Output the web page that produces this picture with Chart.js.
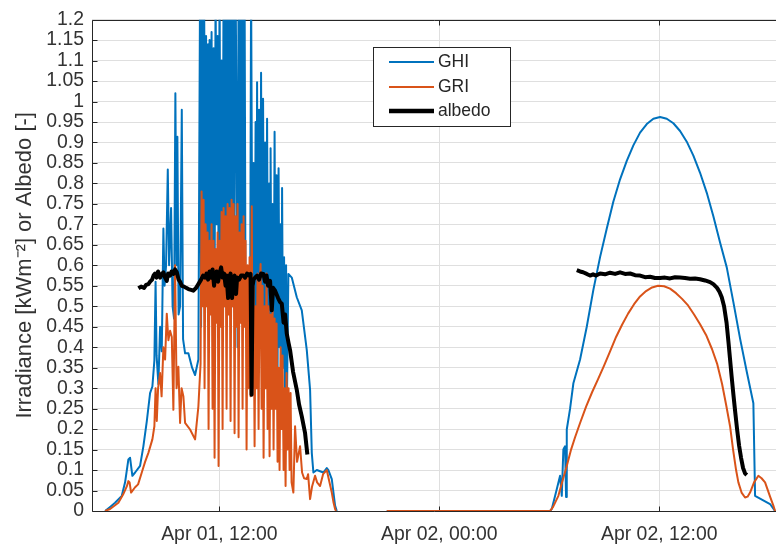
<!DOCTYPE html>
<html><head><meta charset="utf-8">
<script src="https://cdn.jsdelivr.net/npm/chart.js@4/dist/chart.umd.min.js"></script>
<style>html,body{margin:0;padding:0;background:#fff;}canvas{display:block;}</style>
</head><body>
<canvas id="c" width="776" height="546"></canvas>
<script>
// ---- tick labels / categories ----
const xTickValues = [12, 24, 36];            // hours since Apr 01 00:00
const xTickLabels = ['Apr 01, 12:00', 'Apr 02, 00:00', 'Apr 02, 12:00'];
const yTickValues = [0,0.05,0.1,0.15,0.2,0.25,0.3,0.35,0.4,0.45,0.5,0.55,0.6,0.65,0.7,0.75,0.8,0.85,0.9,0.95,1,1.05,1.1,1.15,1.2];
const seriesLabels = ['GHI', 'GRI', 'albedo'];
const yTitle = 'Irradiance [kWm\u207B\u00B2] or Albedo [-]';

// ---- GHI ----
const ghiDay1Time = [5.764,6.037,6.309,6.675,6.855,7.035,7.128,7.253,7.401,7.673,
7.853,8.039,8.219,8.344,8.454,8.519,8.574,8.672,8.765,8.857,
8.945,9.010,9.092,9.185,9.256,9.365,9.447,9.528,9.599,9.665,
9.709,9.774,9.856,9.949,10.019,10.129,10.309,10.511,10.674,10.854,
10.947,11.002,11.056,11.111,11.165,11.220,11.274,11.329,11.383,11.411,
11.465,11.520,11.574,11.629,11.684,11.738,11.793,11.847,11.902,11.956,
12.011,12.066,12.120,12.175,12.229,12.284,12.338,12.393,12.447,12.502,
12.557,12.611,12.666,12.720,12.775,12.829,12.884,12.938,12.993,13.048,
13.102,13.157,13.211,13.266,13.320,13.375,13.429,
13.511,13.620,13.675,13.730,
13.811,13.866,13.921,13.975,14.030,14.057,14.112,14.166,14.221,14.275,
14.330,14.384,14.439,14.493,14.548,14.603,14.657,14.712,14.766,14.794,
14.848,14.903,14.957,15.012,15.066,15.121,15.175,15.230,15.284,15.339,
15.394,15.421,15.476,15.530,15.585,15.639,15.694,15.765,
15.950,16.223,16.496,16.769,16.949,17.042,17.129,17.314,17.675,17.860,
17.947,18.133,18.313,18.405];
const ghiDay1Value = [0,0.01,0.02,0.037,0.07,0.126,0.13,0.086,0.094,0.11,
0.158,0.219,0.288,0.304,0.368,0.56,0.38,0.31,0.45,0.39,
0.69,0.55,0.6,0.834,0.6,0.74,0.5,0.47,1.02,0.6,
0.914,0.48,0.5,0.98,0.42,0.385,0.385,0.35,0.332,0.37,
1.3,0.45,1.3,0.6,1.3,0.7,1.16,0.5,1.14,0.55,
1.15,0.6,1.17,0.65,1.13,0.5,1.3,0.7,1.16,0.6,
1.3,0.55,1.1,0.6,1.3,0.5,1.3,0.65,1.3,0.55,
1.3,0.6,1.3,0.5,1.3,0.7,1.3,0.95,0.4,1.3,
0.6,1.3,0.5,1.3,0.65,1.3,0.45,
0.5,0.38,0.42,1.3,
0.4,0.85,0.35,0.95,0.5,1.047,0.45,0.98,0.5,1.07,
0.45,1.007,0.4,0.9,0.5,0.958,0.37,0.8,0.45,0.886,
0.4,0.75,0.35,0.926,0.4,0.82,0.35,0.837,0.4,0.7,
0.3,0.789,0.35,0.62,0.25,0.6,0.3,0.579,
0.57,0.522,0.49,0.393,0.296,0.142,0.094,0.1,0.094,0.105,
0.1,0.078,0.013,0];
const ghiDay2Time = [21.133,30.043,30.136,30.408,30.589,30.681,30.768,30.861,30.916,30.954,
31.135,31.315,31.680,32.045,32.405,32.771,33.137,33.497,33.862,34.228,
34.588,34.953,35.319,35.679,36.045,36.410,36.770,37.136,37.501,37.862,
38.227,38.593,38.952,39.318,39.683,40.044,40.410,40.775,41.135,41.228,
42.046,42.319];
const ghiDay2Value = [0,0,0.005,0.053,0.086,0.037,0.15,0.158,0.034,0.199,
0.25,0.312,0.37,0.45,0.54,0.62,0.69,0.756,0.81,0.855,
0.893,0.924,0.945,0.958,0.962,0.958,0.947,0.928,0.902,0.868,
0.826,0.777,0.72,0.656,0.595,0.51,0.421,0.34,0.263,0.037,
0.017,0];

// ---- GRI ----
const griDay1Time = [5.764,6.037,6.490,6.746,6.948,7.035,7.101,7.182,7.401,7.564,
7.766,7.946,8.126,8.344,8.454,8.519,8.585,8.656,8.765,8.847,
8.945,9.038,9.130,9.218,9.310,9.403,9.490,9.583,9.665,9.763,
9.856,9.938,10.036,10.129,10.401,10.674,10.854,10.974,11.029,
11.083,11.138,11.192,11.247,11.302,11.356,11.411,11.465,11.520,11.574,
11.629,11.684,11.738,11.793,11.847,11.902,11.956,12.011,12.066,12.120,
12.175,12.229,12.284,12.338,12.393,12.447,12.502,12.557,12.611,12.666,
12.720,12.775,12.829,12.884,12.938,12.993,13.048,13.102,13.157,13.211,
13.266,13.320,13.375,13.429,13.484,13.539,13.593,13.648,13.702,
13.768,
13.811,13.866,13.921,13.975,14.030,14.084,14.139,14.194,14.248,14.303,
14.357,14.412,14.466,14.521,14.575,14.630,14.685,14.739,14.794,14.848,
14.903,14.957,15.012,15.066,15.121,15.175,15.230,15.284,15.339,15.394,
15.448,15.503,15.557,15.612,15.667,15.721,15.776,15.830,15.885,15.939,
16.037,16.130,16.239,16.403,16.512,16.621,16.769,16.840,16.949,17.058,
17.221,17.331,17.494,17.658,17.860,17.958,18.133,18.231,18.313,18.367];
const griDay1Value = [0,0.005,0.02,0.04,0.06,0.073,0.07,0.045,0.058,0.065,
0.094,0.12,0.142,0.175,0.207,0.3,0.22,0.3,0.337,0.28,
0.40,0.37,0.482,0.417,0.44,0.425,0.247,0.60,0.3,0.352,
0.215,0.3,0.28,0.215,0.199,0.175,0.255,0.36,0.78,
0.5,0.76,0.3,0.70,0.5,0.68,0.2,0.66,0.48,0.70,
0.25,0.66,0.13,0.64,0.46,0.68,0.11,0.66,0.45,0.73,
0.2,0.74,0.5,0.72,0.25,0.75,0.48,0.74,0.22,0.76,
0.5,0.75,0.19,0.72,0.45,0.75,0.18,0.68,0.46,0.70,
0.25,0.72,0.45,0.66,0.15,0.6,0.3,0.62,0.28,
0.744,
0.3,0.55,0.158,0.5,0.3,0.58,0.2,0.55,0.603,0.25,
0.55,0.13,0.5,0.3,0.58,0.2,0.5,0.134,0.48,0.25,
0.5,0.15,0.47,0.25,0.458,0.12,0.35,0.1,0.4,0.2,
0.38,0.1,0.3,0.061,0.337,0.15,0.3,0.1,0.288,0.07,
0.045,0.207,0.12,0.158,0.094,0.08,0.078,0.09,0.029,0.06,
0.086,0.07,0.061,0.09,0.1,0.08,0.045,0.02,0.005,0];
const griDay2Time = [21.133,30.043,30.207,30.496,30.698,30.954,31.189,31.407,31.680,32.008,
32.335,32.662,32.989,33.317,33.644,33.971,34.299,34.626,34.953,35.281,
35.608,35.935,36.263,36.590,36.918,37.245,37.572,37.900,38.227,38.554,
38.882,39.155,39.428,39.646,39.864,40.028,40.192,40.317,40.491,40.682,
40.819,40.955,41.173,41.408,41.582,41.774,42.046,42.226,42.319];
const griDay2Value = [0,0,0.01,0.037,0.07,0.11,0.15,0.18,0.215,0.255,
0.29,0.322,0.355,0.39,0.425,0.455,0.482,0.505,0.524,0.537,
0.546,0.55,0.549,0.543,0.532,0.518,0.502,0.48,0.456,0.43,
0.395,0.36,0.31,0.26,0.207,0.15,0.1,0.07,0.045,0.033,
0.035,0.045,0.07,0.086,0.08,0.07,0.035,0.013,0];

// ---- albedo ----
const albDay1Time = [7.581,7.728,7.892,8.001,8.126,8.219,8.328,8.410,8.492,8.574,
8.655,8.765,8.847,8.945,9.037,9.130,9.201,9.310,9.392,9.490,
9.583,9.676,9.774,9.856,9.949,10.074,10.183,10.308,10.456,10.581,
10.728,10.854,11.001,11.111,11.220,11.302,11.383,11.465,11.547,11.629,
11.711,11.765,11.847,11.929,12.011,12.093,12.175,12.256,12.338,12.393,
12.475,12.529,12.611,12.693,12.748,12.829,12.911,12.966,13.075,13.184,
13.309,13.402,13.511,13.620,13.702,13.757,13.811,13.866,13.948,14.057,
14.166,14.275,14.401,14.493,14.575,14.657,14.766,14.859,14.930,15.039,
15.203,15.312,15.405,15.503,15.585,15.677,15.776,15.857,16.021,16.223,
16.348,16.496,16.676,16.801];
const albDay1Value = [0.544,0.548,0.545,0.552,0.554,0.56,0.565,0.575,0.58,0.57,
0.585,0.57,0.578,0.583,0.57,0.562,0.58,0.575,0.585,0.579,
0.59,0.583,0.565,0.56,0.55,0.548,0.545,0.542,0.54,0.538,
0.545,0.554,0.565,0.575,0.57,0.58,0.565,0.585,0.57,0.59,
0.55,0.575,0.585,0.56,0.58,0.595,0.57,0.58,0.55,0.575,
0.52,0.57,0.58,0.52,0.57,0.575,0.53,0.57,0.565,0.575,
0.575,0.57,0.58,0.575,0.579,0.284,0.55,0.565,0.57,0.575,
0.565,0.58,0.579,0.56,0.575,0.55,0.562,0.49,0.545,0.538,
0.52,0.51,0.506,0.46,0.48,0.433,0.41,0.393,0.34,0.296,
0.26,0.231,0.19,0.138];
const albDay2Time = [31.500,31.680,31.844,32.045,32.225,32.389,32.553,32.771,33.044,33.317,
33.590,33.862,34.135,34.408,34.681,34.953,35.226,35.499,35.772,36.045,
36.317,36.590,36.863,37.136,37.408,37.681,37.954,38.227,38.500,38.773,
38.952,39.155,39.291,39.410,39.536,39.672,39.782,39.864,39.946,40.044,
40.137,40.246,40.355,40.464,40.573,40.682,40.775];
const albDay2Value = [0.588,0.585,0.583,0.579,0.575,0.578,0.575,0.58,0.578,0.582,
0.579,0.583,0.579,0.58,0.576,0.575,0.571,0.572,0.569,0.569,
0.57,0.568,0.571,0.57,0.569,0.567,0.568,0.566,0.563,0.559,
0.554,0.545,0.535,0.522,0.50,0.46,0.41,0.37,0.33,0.285,
0.245,0.2,0.16,0.13,0.105,0.092,0.088];

// ---- build series ----
function pts(t, v) { return t.map((x, i) => ({x: x, y: v[i]})); }
function twoDays(t1, v1, t2, v2) {
  return pts(t1, v1).concat([{x: (t1[t1.length-1] + t2[0]) / 2, y: null}], pts(t2, v2));
}
const FONT = 'Liberation Sans, Arial, Helvetica, sans-serif';
const AXC = '#262626';
const TXT = '#333333';

const frame = {
  id: 'frame',
  beforeDatasetsDraw(chart) {
    const {ctx, chartArea: a, scales: {x, y}} = chart;
    ctx.save();
    ctx.strokeStyle = AXC; ctx.lineWidth = 1;
    const L = Math.round(a.left) + 0.5, R = Math.round(a.right);
    const T = Math.round(a.top) + 0.5, B = Math.round(a.bottom) + 0.5;
    ctx.beginPath();
    ctx.moveTo(R, T); ctx.lineTo(L, T); ctx.lineTo(L, B); ctx.lineTo(R, B);
    yTickValues.forEach(v => {
      const py = Math.round(y.getPixelForValue(v)) + 0.5;
      ctx.moveTo(L, py); ctx.lineTo(L + 5, py);
    });
    xTickValues.forEach(v => {
      const px = Math.round(x.getPixelForValue(v)) + 0.5;
      ctx.moveTo(px, B); ctx.lineTo(px, B - 5);
      ctx.moveTo(px, T); ctx.lineTo(px, T + 5);
    });
    ctx.stroke();
    ctx.restore();
  },
  afterDraw(chart) {
    const ctx = chart.ctx;
    ctx.save();
    ctx.fillStyle = '#ffffff';
    ctx.fillRect(373, 47, 137, 79);
    ctx.strokeStyle = AXC; ctx.lineWidth = 1;
    ctx.strokeRect(373.5, 47.5, 137, 79);
    const rows = [62, 87, 111];
    ctx.font = '17.5px ' + FONT;
    ctx.textBaseline = 'middle'; ctx.textAlign = 'left';
    chart.data.datasets.forEach((ds, i) => {
      ctx.strokeStyle = ds.borderColor;
      ctx.lineWidth = ds.legendWidth;
      ctx.beginPath(); ctx.moveTo(389, rows[i]); ctx.lineTo(434, rows[i]); ctx.stroke();
      ctx.fillStyle = AXC;
      ctx.fillText(ds.label, 438, rows[i] + 0.5);
    });
    ctx.restore();
  }
};

new Chart(document.getElementById('c'), {
  type: 'line',
  data: {
    datasets: [
      {label: seriesLabels[0], data: twoDays(ghiDay1Time, ghiDay1Value, ghiDay2Time, ghiDay2Value),
       borderColor: '#0072BD', borderWidth: 2, legendWidth: 2, order: 3},
      {label: seriesLabels[1], data: twoDays(griDay1Time, griDay1Value, griDay2Time, griDay2Value),
       borderColor: '#D95319', borderWidth: 2, legendWidth: 2, order: 2},
      {label: seriesLabels[2], data: twoDays(albDay1Time, albDay1Value, albDay2Time, albDay2Value),
       borderColor: '#000000', borderWidth: 4, legendWidth: 4.5, order: 1}
    ]
  },
  options: {
    responsive: false,
    animation: false,
    events: [],
    spanGaps: false,
    layout: {padding: {top: 17, right: 0, left: 0, bottom: 0}},
    elements: {
      point: {radius: 0, hoverRadius: 0},
      line: {tension: 0, borderJoinStyle: 'round', borderCapStyle: 'butt', fill: false}
    },
    plugins: {legend: {display: false}, tooltip: {enabled: false}, title: {display: false}},
    scales: {
      x: {
        type: 'linear', min: 5.05, max: 42.37,
        afterBuildTicks: s => { s.ticks = xTickValues.map(v => ({value: v})); },
        afterFit: s => { s.height = 35; },
        ticks: {callback: (v, i) => xTickLabels[i], autoSkip: false, maxRotation: 0, padding: 12,
                color: TXT, font: {family: FONT, size: 19.4}},
        grid: {color: '#dfdfdf', lineWidth: 1, drawTicks: false},
        border: {display: false}
      },
      y: {
        type: 'linear', min: 0, max: 1.2,
        afterBuildTicks: s => { s.ticks = yTickValues.map(v => ({value: v})); },
        afterFit: s => { s.width = 92; },
        ticks: {callback: (v, i) => String(yTickValues[i]), autoSkip: false, padding: 8,
                color: TXT, font: {family: FONT, size: 19.4}},
        grid: {color: '#dfdfdf', lineWidth: 1, drawTicks: false},
        border: {display: false},
        title: {display: true, text: yTitle, color: TXT, font: {family: FONT, size: 22},
                padding: {top: 12, bottom: 0}}
      }
    }
  },
  plugins: [frame]
});
</script>
</body></html>
